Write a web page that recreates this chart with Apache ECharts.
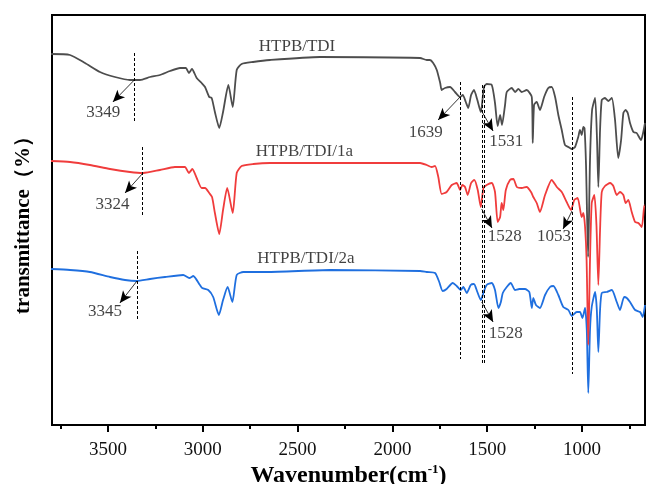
<!DOCTYPE html>
<html>
<head>
<meta charset="utf-8">
<script src="https://cdn.jsdelivr.net/npm/echarts@6/dist/echarts.min.js"></script>
<style>
  html, body { margin: 0; padding: 0; background: #fff; }
  #chart { width: 648px; height: 484px; }
</style>
</head>
<body>
<div id="chart"></div>
<script>
// FTIR spectra, wavenumber (cm-1) and transmittance (a.u.)
const tdiWave = [3800, 3700, 3621, 3542, 3463, 3384, 3331, 3278, 3226, 3173, 3120, 3104, 3089, 3073, 3057, 3032, 3006, 2988, 2966, 2953,
  2936, 2913, 2893, 2865, 2842, 2821, 2795, 2735, 2645, 2382, 1854, 1819, 1802, 1785, 1766, 1748, 1740, 1723, 1696, 1670,
  1643, 1629, 1613, 1600, 1585, 1570, 1552, 1534, 1517, 1503, 1476, 1459, 1445, 1432, 1422, 1406, 1397, 1371, 1353, 1336,
  1318, 1292, 1265, 1260, 1253, 1239, 1222, 1200, 1178, 1160, 1142, 1125, 1107, 1090, 1072, 1054, 1037, 1020, 1011, 1002,
  993, 987, 979, 968, 958, 947, 931, 921, 914, 905, 896, 879, 861, 843, 826, 809, 794, 782, 770, 759,
  747, 729, 712, 689, 677, 668];
const tdiTrans = [371, 370, 362, 353, 348, 345, 345, 348, 350, 354, 357, 357, 357, 352, 356, 347, 342, 338, 328, 327,
  313, 297, 313, 340, 318, 355, 361, 363, 365, 368, 367, 365, 365, 362, 355, 342, 335, 337, 338, 333,
  328, 330, 323, 317, 330, 335, 325, 313, 338, 341, 340, 322, 299, 310, 300, 320, 333, 337, 333, 336,
  333, 335, 328, 282, 320, 323, 315, 328, 337, 338, 328, 310, 295, 280, 278, 276, 278, 288, 295, 290,
  298, 297, 260, 168, 265, 315, 327, 285, 238, 295, 325, 327, 324, 327, 305, 267, 285, 312, 315, 312,
  302, 293, 292, 285, 293, 302];

const tdi1aWave = [3800, 3700, 3595, 3489, 3384, 3314, 3226, 3147, 3094, 3073, 3055, 3032, 3006, 2988, 2966, 2951, 2936, 2913, 2893, 2871,
  2842, 2821, 2795, 2734, 2645, 2382, 1854, 1819, 1793, 1775, 1758, 1740, 1714, 1687, 1661, 1643, 1631, 1617, 1603, 1585,
  1568, 1550, 1534, 1520, 1503, 1476, 1459, 1445, 1432, 1424, 1415, 1402, 1380, 1362, 1344, 1318, 1292, 1269, 1257, 1239,
  1222, 1195, 1160, 1133, 1107, 1081, 1058, 1041, 1023, 1002, 993, 984, 976, 967, 958, 949, 935, 924, 914, 905,
  896, 879, 852, 835, 817, 800, 782, 770, 756, 738, 720, 703, 685, 671, 668];
const tdi1aTrans = [264, 263, 260, 256, 253, 252, 255, 258, 258, 252, 256, 247, 237, 237, 232, 228, 212, 191, 215, 237,
  212, 252, 259, 261, 262, 262, 262, 260, 258, 259, 248, 231, 233, 240, 242, 235, 240, 238, 230, 242,
  245, 235, 218, 237, 240, 242, 233, 203, 208, 222, 215, 235, 245, 246, 238, 237, 238, 233, 228, 222,
  213, 230, 245, 238, 233, 223, 215, 225, 227, 208, 212, 198, 165, 80, 165, 222, 230, 200, 140, 195,
  233, 239, 242, 239, 230, 233, 230, 222, 225, 213, 203, 202, 198, 220, 220];

const tdi2aWave = [3800, 3700, 3595, 3489, 3410, 3349, 3278, 3199, 3103, 3071, 3050, 3015, 3003, 2971, 2945, 2915, 2893, 2869, 2844, 2821,
  2786, 2663, 2329, 1854, 1819, 1775, 1753, 1735, 1714, 1682, 1661, 1640, 1626, 1608, 1587, 1570, 1552, 1534, 1520, 1503,
  1476, 1459, 1441, 1428, 1418, 1397, 1376, 1353, 1331, 1301, 1278, 1265, 1257, 1243, 1222, 1195, 1169, 1151, 1125, 1099,
  1072, 1054, 1028, 1011, 998, 984, 975, 967, 958, 949, 931, 922, 914, 905, 896, 870, 843, 817, 800, 778,
  764, 747, 720, 694, 680, 668];
const tdi2aTrans = [156, 155, 153, 148, 145, 144, 146, 148, 150, 147, 149, 140, 137, 135, 128, 110, 125, 138, 123, 150,
  153, 153, 155, 154, 153, 152, 143, 134, 136, 142, 139, 135, 138, 132, 140, 141, 133, 125, 132, 140,
  142, 135, 117, 123, 132, 138, 142, 135, 136, 136, 133, 117, 127, 120, 117, 130, 138, 139, 130, 118,
  115, 109, 113, 113, 107, 117, 95, 32, 95, 118, 133, 115, 73, 115, 132, 133, 135, 123, 115, 128,
  127, 123, 115, 113, 108, 120];

const seriesNames = ['HTPB/TDI', 'HTPB/TDI/1a', 'HTPB/TDI/2a'];
const peakLabels = ['3349', '3324', '3345', '1639', '1531', '1528', '1528', '1053'];
const majorTicks = [1000, 1500, 2000, 2500, 3000, 3500];
const minorTicks = [750, 1000, 1250, 1500, 1750, 2000, 2250, 2500, 2750, 3000, 3250, 3500, 3750];

// annotation placement, in data coordinates
const namePos = [[2503, 378], [2464, 273], [2456, 166]];
const peakPos = [[3525, 312], [3476, 220], [3516, 113], [1824, 292], [1399, 283], [1408, 188], [1402, 91], [1148, 188]];
const guides = [[3361, 372, 303], [3317, 278, 210], [3345, 174, 106], [1643, 343, 66], [1527, 340, 62], [1517, 340, 62], [1051, 328, 51]];
const arrows = [[3361, 345, 3474, 323], [3315, 252, 3410, 232], [3347, 144, 3437, 122], [1643, 328, 1759, 305],
  [1533, 315, 1469, 294], [1529, 216, 1475, 197], [1529, 123, 1469, 103], [1053, 214, 1100, 196]];

const FONT = '"Liberation Serif", "Times New Roman", serif';
const zip = (a, b) => a.map((v, i) => [v, b[i]]);

const chart = echarts.init(document.getElementById('chart'));

const lineSeries = (name, data, color) => ({
  name: name,
  type: 'line',
  data: data,
  showSymbol: false,
  smooth: 0.2,
  lineStyle: { color: color, width: 1.8 },
  itemStyle: { color: color },
  silent: true
});

const option = {
  animation: false,
  backgroundColor: '#fff',
  grid: {
    left: 52, right: 3, top: 15, bottom: 59,
    containLabel: false, outerBoundsMode: 'none',
    show: true, borderColor: '#000', borderWidth: 2
  },
  xAxis: [
    {
      type: 'value',
      inverse: true,
      min: 668,
      max: 3795,
      name: 'Wavenumber(cm{sup|-1})',
      nameLocation: 'middle',
      nameGap: 38,
      nameMoveOverlap: false,
      nameTextStyle: {
        fontFamily: FONT, fontSize: 24, fontWeight: 'bold', color: '#000',
        rich: { sup: { fontFamily: FONT, fontSize: 13, fontWeight: 'bold', color: '#000', verticalAlign: 'top', padding: [0, 0, 12, 0] } }
      },
      axisLine: { lineStyle: { color: '#000', width: 2 } },
      axisTick: { customValues: majorTicks, length: 7, lineStyle: { color: '#000', width: 2 } },
      axisLabel: {
        customValues: majorTicks,
        formatter: v => String(v),
        fontFamily: FONT, fontSize: 19, color: '#111', margin: 16
      },
      splitLine: { show: false }
    },
    {
      type: 'value',
      inverse: true,
      min: 668,
      max: 3795,
      position: 'bottom',
      axisLine: { show: false },
      axisTick: { customValues: minorTicks, length: 4, lineStyle: { color: '#000', width: 2 } },
      axisLabel: { show: false },
      splitLine: { show: false }
    }
  ],
  yAxis: {
    type: 'value',
    min: 0,
    max: 410,
    name: 'transmittance（%）',
    nameLocation: 'middle',
    nameGap: 18,
    nameMoveOverlap: false,
    nameTextStyle: { fontFamily: FONT, fontSize: 21, fontWeight: 'bold', color: '#000' },
    axisLine: { show: true, lineStyle: { color: '#000', width: 2 } },
    axisTick: { show: false },
    axisLabel: { show: false },
    splitLine: { show: false }
  },
  series: [
    lineSeries(seriesNames[2], zip(tdi2aWave, tdi2aTrans), '#1f6fdf'),
    lineSeries(seriesNames[1], zip(tdi1aWave, tdi1aTrans), '#f03c3c'),
    lineSeries(seriesNames[0], zip(tdiWave, tdiTrans), '#4d4d4d'),
    {
      // curve names and peak numbers
      type: 'scatter',
      silent: true,
      symbolSize: 1,
      itemStyle: { color: 'rgba(0,0,0,0)' },
      data: namePos.map((p, i) => ({ value: p, name: seriesNames[i] }))
        .concat(peakPos.map((p, i) => ({ value: p, name: peakLabels[i] }))),
      label: {
        show: true,
        position: 'inside',
        formatter: '{b}',
        fontFamily: FONT,
        fontSize: 17,
        color: '#111'
      },
      markLine: {
        silent: true,
        symbol: ['none', 'arrow'],
        symbolSize: [8, 12],
        label: { show: false },
        lineStyle: { color: '#000', width: 0.8, type: 'solid' },
        data: arrows.map(a => [{ coord: [a[0], a[1]] }, { coord: [a[2], a[3]] }])
      }
    },
    {
      // dashed guide lines
      type: 'scatter',
      silent: true,
      data: [],
      markLine: {
        silent: true,
        symbol: ['none', 'none'],
        label: { show: false },
        lineStyle: { color: '#000', width: 1, type: [3, 2] },
        data: guides.map(g => [{ coord: [g[0], g[1]] }, { coord: [g[0], g[2]] }])
      }
    }
  ]
};

chart.setOption(option);
</script>
</body>
</html>
